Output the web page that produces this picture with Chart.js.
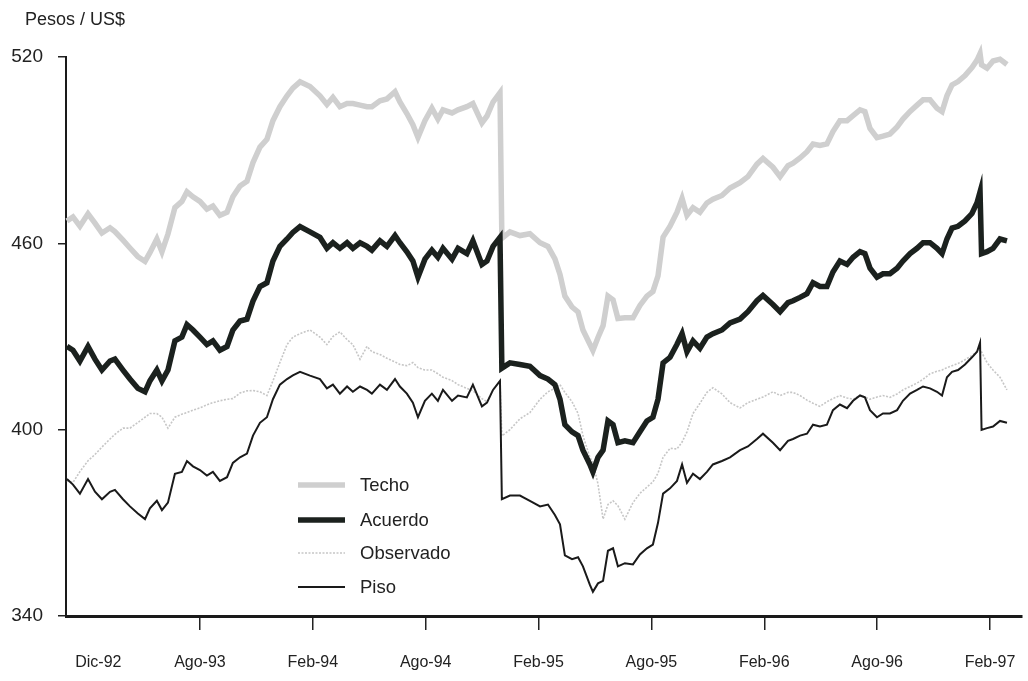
<!DOCTYPE html>
<html>
<head>
<meta charset="utf-8">
<script src="https://cdn.jsdelivr.net/npm/chart.js@4.4.1/dist/chart.umd.min.js"></script>
<style>
  body { margin: 0; background: #fff; }
  #wrap { width: 1028px; height: 681px; }
</style>
</head>
<body>
<div id="wrap"><canvas id="chartBanda" width="1028" height="681"></canvas></div>
<script>
/**
 * Banda cambiaria: techo, acuerdo, observado y piso (Pesos / US$)
 */

// meses desde dic-92 (0 = 1 dic 1992)
const meses = [
  0.93, 1.25, 1.62, 2.05, 2.42, 2.79, 3.22, 3.48, 3.91, 4.28, 4.70, 5.08, 5.34, 5.71, 5.98, 6.30,
  6.67, 7.04, 7.31, 7.63, 8.00, 8.37, 8.69, 9.06, 9.44, 9.75, 10.13, 10.50, 10.82, 11.19, 11.56, 11.88,
  12.25, 12.63, 12.94, 13.32, 13.85, 14.38, 14.75, 15.07, 15.44, 15.82, 16.13, 16.51, 16.88, 17.14, 17.57, 17.94,
  18.37, 18.63, 19.00, 19.32, 19.59, 19.96, 20.33, 20.65, 20.92, 21.40, 21.72, 22.19, 22.51, 22.99, 23.26, 23.58,
  23.95, 24.05, 24.48, 25.01, 25.54, 26.08, 26.50, 26.87, 27.14, 27.40, 27.78, 28.10, 28.36, 28.73, 28.89, 29.16,
  29.43, 29.69, 29.96, 30.22, 30.59, 31.02, 31.39, 31.76, 32.08, 32.35, 32.62, 32.99, 33.36, 33.63, 33.89, 34.21,
  34.58, 34.95, 35.27, 35.75, 36.18, 36.71, 37.13, 37.61, 37.93, 38.46, 38.84, 39.26, 39.53, 39.90, 40.27, 40.59,
  40.96, 41.33, 41.65, 42.02, 42.40, 42.72, 43.09, 43.35, 43.62, 43.99, 44.31, 44.68, 45.06, 45.37, 45.75, 46.12,
  46.44, 46.81, 47.18, 47.45, 47.71, 47.98, 48.30, 48.67, 49.04, 49.31, 49.47, 49.55, 49.84, 50.16, 50.53, 50.90
]

const techo = [
  467.2, 468.5, 465.5, 469.5, 466.5, 463.3, 465.0, 463.8, 461.0, 458.5, 455.7, 454.2, 457.0, 461.4, 457.3, 463.0,
  471.5, 473.5, 476.6, 475.0, 473.5, 471.0, 472.0, 469.0, 470.0, 475.0, 478.5, 480.0, 486.0, 491.0, 493.5, 499.5,
  504.0, 507.5, 510.0, 512.0, 510.5, 507.5, 504.7, 507.0, 504.0, 505.0, 505.0, 504.5, 504.0, 504.0, 505.9, 506.5,
  508.8, 505.5, 501.8, 498.2, 494.1, 499.5, 503.5, 500.0, 503.0, 502.0, 503.0, 504.0, 505.0, 498.8, 501.0, 505.5,
  508.5, 461.6, 463.7, 462.5, 463.1, 460.2, 459.0, 455.0, 450.0, 443.0, 439.5, 437.9, 432.1, 427.5, 425.5, 429.7,
  433.5, 443.0, 441.8, 435.8, 436.0, 436.0, 440.0, 443.0, 444.5, 449.5, 462.0, 465.5, 470.0, 474.5, 469.0, 471.5,
  470.0, 473.0, 474.2, 475.4, 477.8, 479.5, 481.5, 485.5, 487.3, 484.5, 481.5, 485.0, 485.8, 487.5, 489.5, 492.0,
  491.5, 492.0, 496.0, 499.5, 499.5, 501.1, 503.0, 502.4, 497.0, 494.0, 494.5, 495.2, 497.5, 500.0, 502.5, 504.5,
  506.2, 506.2, 503.5, 502.4, 507.5, 511.0, 512.1, 514.0, 516.6, 519.0, 521.1, 517.5, 516.4, 518.7, 519.3, 517.6
]

const acuerdo = [
  426.8, 425.6, 422.1, 426.8, 422.7, 419.2, 422.1, 422.7, 419.2, 416.3, 413.3, 412.2, 415.7, 419.2, 415.7, 419.2,
  428.6, 429.8, 433.8, 432.1, 429.8, 427.4, 428.6, 425.6, 426.8, 432.1, 435.0, 435.6, 441.4, 446.1, 447.3, 454.3,
  459.0, 461.4, 463.5, 465.4, 463.7, 461.9, 458.4, 460.2, 458.4, 460.2, 458.4, 460.2, 459.0, 457.8, 460.8, 459.0,
  462.5, 460.2, 457.3, 454.3, 449.1, 454.9, 457.8, 455.5, 458.4, 454.9, 458.4, 456.7, 460.8, 453.2, 454.3, 459.0,
  461.9, 419.8, 421.5, 421.0, 420.4, 417.4, 416.3, 414.5, 409.8, 401.6, 399.3, 398.1, 393.4, 388.8, 386.4, 391.1,
  393.4, 402.8, 401.6, 395.8, 396.4, 395.8, 399.3, 402.8, 404.0, 409.8, 421.5, 423.3, 427.5, 430.9, 425.1, 428.6,
  426.2, 429.8, 430.9, 432.1, 434.4, 435.6, 438.0, 441.5, 443.2, 440.3, 438.0, 440.9, 441.5, 442.6, 443.8, 447.3,
  446.1, 446.1, 450.8, 454.3, 453.2, 455.5, 457.3, 456.7, 452.0, 449.1, 450.2, 450.2, 452.0, 454.3, 456.7, 458.4,
  460.2, 460.2, 458.4, 456.7, 461.4, 464.9, 465.5, 467.2, 469.6, 473.1, 476.6, 456.7, 457.3, 458.4, 461.4, 460.8
]

const observado = [
  383.5, 383.0, 386.5, 390.0, 392.0, 394.4, 397.0, 398.5, 400.5, 400.5, 402.3, 404.0, 405.2, 405.2, 404.0, 400.5,
  404.0, 405.0, 405.5, 406.3, 407.0, 408.0, 408.7, 409.3, 409.8, 410.0, 411.8, 412.5, 412.6, 412.2, 411.0, 415.7,
  421.6, 427.4, 429.8, 430.9, 432.1, 429.8, 427.4, 430.0, 431.5, 429.0, 427.4, 422.7, 426.8, 425.1, 424.2, 423.0,
  421.8, 421.0, 420.6, 421.6, 420.0, 419.2, 419.2, 418.0, 416.9, 415.8, 414.5, 413.3, 412.5, 410.0, 409.0, 412.8,
  415.7, 398.0, 400.0, 403.5, 405.5, 409.8, 412.2, 413.3, 414.5, 412.0, 409.0, 405.2, 398.1, 391.1, 389.5, 382.5,
  371.2, 375.9, 377.1, 375.5, 371.2, 376.5, 379.5, 381.5, 383.2, 386.0, 391.1, 394.0, 393.8, 396.0, 399.3, 405.2,
  408.5, 412.0, 413.5, 411.5, 408.7, 407.0, 408.7, 409.8, 410.5, 412.2, 411.0, 412.0, 412.0, 411.0, 409.5, 408.5,
  407.5, 409.0, 410.0, 411.0, 410.2, 409.8, 411.0, 410.5, 409.8, 410.5, 411.0, 410.4, 411.5, 412.8, 413.9, 415.0,
  416.2, 418.0, 418.8, 419.2, 420.0, 420.6, 421.3, 422.5, 423.9, 425.1, 425.7, 425.0, 421.6, 419.2, 416.9, 412.8
]

const piso = [
  384.1, 382.3, 379.4, 384.1, 380.0, 377.6, 380.0, 380.6, 377.6, 375.3, 373.0, 371.2, 374.7, 377.1, 374.1, 376.5,
  385.8, 386.4, 389.9, 388.2, 387.0, 385.2, 386.4, 383.5, 384.7, 389.3, 391.1, 392.3, 398.1, 402.2, 404.0, 409.8,
  414.5, 416.3, 417.5, 418.6, 417.4, 416.3, 413.3, 414.5, 411.6, 413.9, 412.2, 413.9, 412.8, 411.6, 414.5, 412.8,
  416.3, 413.9, 411.6, 408.7, 404.0, 409.3, 411.6, 409.3, 412.8, 409.3, 411.0, 410.4, 414.5, 407.5, 408.7, 412.8,
  415.7, 377.6, 378.8, 378.8, 377.1, 375.3, 375.9, 372.5, 369.5, 359.5, 358.3, 358.9, 356.0, 350.0, 347.8, 350.5,
  351.3, 361.0, 361.8, 356.0, 357.0, 356.6, 359.8, 361.8, 363.0, 370.0, 379.4, 381.1, 383.5, 388.8, 382.9, 385.8,
  384.1, 386.4, 388.8, 389.9, 391.1, 393.4, 394.6, 397.0, 398.7, 395.8, 393.4, 396.4, 397.0, 398.1, 398.7, 401.6,
  401.0, 401.6, 406.3, 408.1, 406.9, 409.3, 411.0, 410.4, 406.3, 404.0, 405.2, 405.2, 406.3, 409.3, 411.6, 412.8,
  413.9, 413.3, 412.2, 411.0, 416.9, 418.6, 419.2, 421.0, 423.3, 425.1, 428.0, 399.9, 400.5, 401.0, 402.8, 402.2
]

// etiquetas del eje x (el primer rotulo no lleva marca)
const tickMeses = [2.6, 8, 14, 20, 26, 32, 38, 44, 50]
const tickEtiquetas = ['Dic-92', 'Ago-93', 'Feb-94', 'Ago-94', 'Feb-95', 'Ago-95', 'Feb-96', 'Ago-96', 'Feb-97']
const yTicks = [340, 400, 460, 520]

const FUENTE = '"Liberation Sans", Arial, sans-serif'

const estilos = {
  Techo:     { color: '#cfcfcf', width: 5.5, dash: [] },
  Acuerdo:   { color: '#1b211e', width: 5.5, dash: [] },
  Observado: { color: '#c6c6c6', width: 1.6, dash: [2, 1.5] },
  Piso:      { color: '#1a1a1a', width: 2, dash: [] }
}
const series = { Techo: techo, Acuerdo: acuerdo, Observado: observado, Piso: piso }
const orden = { Techo: 4, Observado: 3, Piso: 2, Acuerdo: 1 }

function puntos(valores) {
  return meses.map((m, i) => ({ x: m, y: valores[i] }))
}

// leyenda dentro del area del grafico + titulo del eje
const leyendaPlugin = {
  id: 'leyendaBanda',
  afterDraw(chart) {
    const ctx = chart.ctx
    ctx.save()
    ctx.fillStyle = '#222'
    ctx.textBaseline = 'middle'
    ctx.font = '18px ' + FUENTE
    ctx.fillText('Pesos / US$', 25, 20)

    const nombres = ['Techo', 'Acuerdo', 'Observado', 'Piso']
    const filas = [485, 520, 553, 587]
    ctx.font = '18.5px ' + FUENTE
    nombres.forEach((n, i) => {
      const e = estilos[n]
      ctx.beginPath()
      ctx.strokeStyle = e.color
      ctx.lineWidth = e.width
      ctx.setLineDash(e.dash)
      ctx.moveTo(298, filas[i])
      ctx.lineTo(345, filas[i])
      ctx.stroke()
      ctx.setLineDash([])
      ctx.fillStyle = '#222'
      ctx.fillText(n, 360, filas[i] + 1)
    })
    ctx.restore()
  }
}

Chart.defaults.font.family = FUENTE
Chart.defaults.color = '#222'

new Chart(document.getElementById('chartBanda'), {
  type: 'line',
  data: {
    datasets: Object.keys(series).map(n => ({
      label: n,
      data: puntos(series[n]),
      borderColor: estilos[n].color,
      borderWidth: estilos[n].width,
      borderDash: estilos[n].dash,
      pointRadius: 0,
      tension: 0,
      fill: false,
      clip: false,
      order: orden[n]
    }))
  },
  options: {
    responsive: false,
    animation: false,
    layout: { padding: { top: 57, right: 6, left: 0, bottom: 0 } },
    plugins: {
      legend: { display: false },
      tooltip: { enabled: false }
    },
    scales: {
      x: {
        type: 'linear',
        min: 0.88,
        max: 51.7,
        afterFit(scale) {
          scale.height = 65
          scale.paddingLeft = 0
          scale.paddingRight = 0
        },
        afterBuildTicks(scale) { scale.ticks = tickMeses.map(v => ({ value: v })) },
        border: { color: '#1a1a1a', width: 3 },
        grid: {
          drawOnChartArea: false,
          tickLength: 14,
          lineWidth: 1.5,
          color: ctx => (ctx.tick && ctx.tick.value < 8) ? 'rgba(0,0,0,0)' : '#222'
        },
        ticks: {
          autoSkip: false,
          maxRotation: 0,
          padding: 23,
          font: { size: 16 },
          callback: (v) => tickEtiquetas[tickMeses.indexOf(v)]
        }
      },
      y: {
        min: 340,
        max: 520,
        afterFit(scale) { scale.width = 66 },
        afterBuildTicks(scale) { scale.ticks = yTicks.map(v => ({ value: v })) },
        border: { color: '#1a1a1a', width: 2 },
        grid: { drawOnChartArea: false, tickLength: 8, lineWidth: 1.5, color: '#222' },
        ticks: { padding: 15, font: { size: 19 } }
      }
    }
  },
  plugins: [leyendaPlugin]
})
</script>
</body>
</html>
